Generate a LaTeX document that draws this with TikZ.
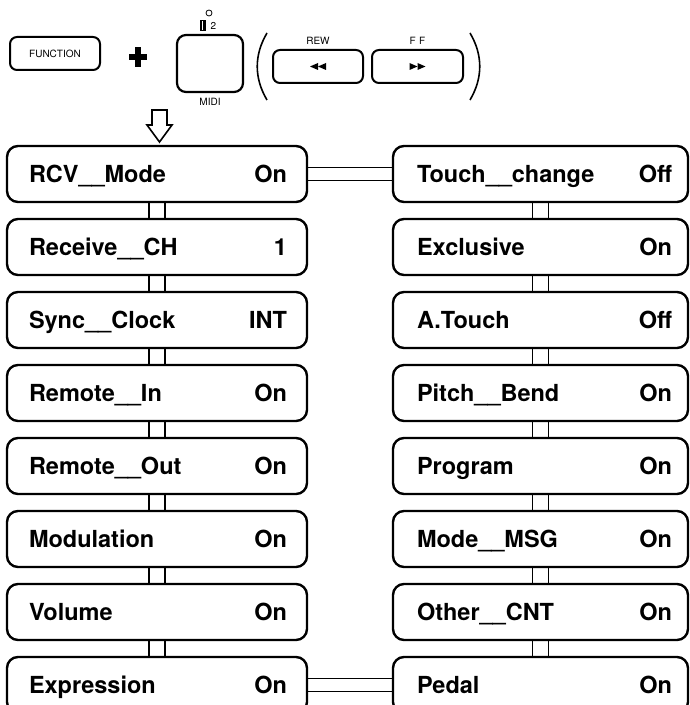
\documentclass[tikz,border=0pt]{standalone}
\usepackage{fontspec}
\setmainfont{TeX Gyre Heros}
\usetikzlibrary{positioning,backgrounds}

\tikzset{
  key/.style={draw, line width=2.4pt, rounded corners=11pt, fill=white, minimum height=56pt, inner sep=0pt},
  btn/.style={draw, line width=2pt, rounded corners=7pt, fill=white, inner sep=0pt},
  entry/.style={font=\fontsize{23.5}{26}\selectfont\bfseries, inner sep=0pt, anchor=base west},
  tag/.style={font=\fontsize{10}{12}\selectfont, inner sep=0pt},
  hlink/.style={double distance=11.5pt, line width=1.3pt},
  vlink/.style={double distance=14.5pt, line width=1.3pt},
}

\begin{document}
\begin{tikzpicture}[x=1pt,y=1pt]
\useasboundingbox (0,0) rectangle (690,705);
\clip (0,0) rectangle (690,705);
% key combination on top
\node[btn, minimum width=90pt, minimum height=33pt, font=\fontsize{10}{12}\selectfont] (fn) at (55,651.5) {FUNCTION};
\draw[line width=5.5pt] (129,648) -- (147,648) (138,638) -- (138,658);
\node[btn, line width=2.2pt, rounded corners=9pt, minimum width=66pt, minimum height=57pt] (midi) at (210,641.5) {};
\node[tag, below=5pt of midi] (midilbl) {MIDI};
\draw[line width=0.8pt] (209,692) circle (3pt);
\fill (200,674) rectangle (206,685);
\draw[white, line width=0.8pt] (202,675) -- (202,684);
\node[tag] (midinum) at (213.5,679.5) {2};
\draw[line width=1.6pt] (267,672) .. controls (254,650) and (254,627) .. (267,605);
\draw[line width=1.6pt] (470,672) .. controls (483,650) and (483,627) .. (470,605);
\node[btn, minimum width=90pt, minimum height=33pt] (rew) at (318,638.5) {};
\node[tag, above=4.5pt of rew] (rewlbl) {REW};
\node[btn, minimum width=91pt, minimum height=33pt] (ff) at (417.5,638.5) {};
\node[tag, above=4.5pt of ff] (fflbl) {F\,\,F};
\begin{scope}[shift={(rew.center)}]
\fill (-8,0) -- (0,3.5) -- (0,-3.5) -- cycle;
\fill (0,0) -- (8,3.5) -- (8,-3.5) -- cycle;
\end{scope}
\begin{scope}[shift={(ff.center)}]
\fill (8,0) -- (0,3.5) -- (0,-3.5) -- cycle;
\fill (0,0) -- (-8,3.5) -- (-8,-3.5) -- cycle;
\end{scope}
\draw[line width=1.6pt, fill=white] (152,595) -- (152,580) -- (147,580) -- (159.5,563) -- (172,580) -- (167,580) -- (167,595) -- cycle;
% menu entries
\foreach \i/\lname/\lval/\rname/\rval in {1/RCV\_\_Mode/On/Touch\_\_change/Off,
    2/Receive\_\_CH/1/Exclusive/On, 3/Sync\_\_Clock/INT/A.Touch/Off,
    4/Remote\_\_In/On/Pitch\_\_Bend/On, 5/Remote\_\_Out/On/Program/On,
    6/Modulation/On/Mode\_\_MSG/On, 7/Volume/On/Other\_\_CNT/On,
    8/Expression/On/Pedal/On} {
  \node[key, minimum width=300pt] (L\i) at (157,{531-73*(\i-1)}) {};
  \node[entry] (L\i-t) at ([xshift=23pt,yshift=-8.5pt]L\i.west) {\lname};
  \node[entry, anchor=base east] (L\i-v) at ([xshift=-21pt,yshift=-8.5pt]L\i.east) {\lval};
  \node[key, minimum width=295pt] (R\i) at (540.5,{531-73*(\i-1)}) {};
  \node[entry] (R\i-t) at ([xshift=25pt,yshift=-8.5pt]R\i.west) {\rname};
  \node[entry, anchor=base east] (R\i-v) at ([xshift=-17pt,yshift=-8.5pt]R\i.east) {\rval};
}
% links
\begin{scope}[on background layer]
\draw[hlink] (L1.east) -- (R1.west);
\draw[hlink] (L8.east) -- (R8.west);
\foreach \i [evaluate=\i as \j using int(\i+1)] in {1,...,7} {
  \draw[vlink] (L\i.south) -- (L\j.north);
  \draw[vlink] (R\i.south) -- (R\j.north);
}
\end{scope}
\end{tikzpicture}
\end{document}
